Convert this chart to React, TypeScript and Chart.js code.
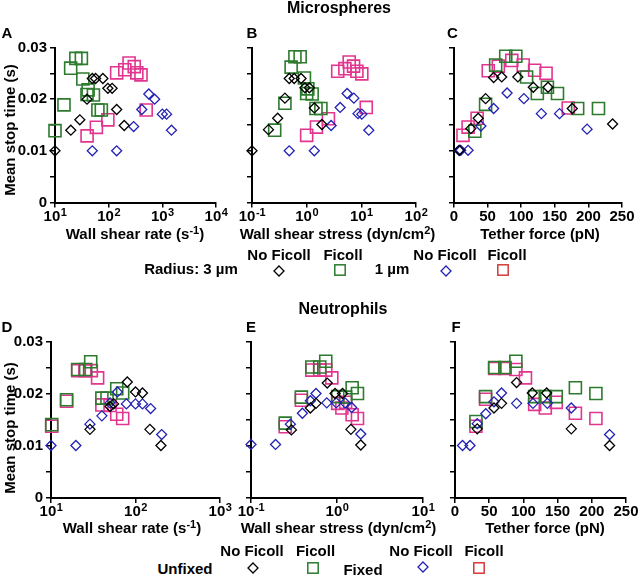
import React, { useEffect, useRef } from 'react';
import { Chart, registerables } from 'chart.js';
Chart.register(...registerables);

type Pt = [number, number];

const FONT = '"Liberation Sans", Arial, Helvetica, sans-serif';
const BLACK = '#000000';
const GREEN = '#2c7b2e';
const BLUE = '#2222b4';
const MAGENTA = '#e2358f';
const LEGEND_RED = '#d43a3a';

const Y_TICKS = [0, 0.005, 0.01, 0.015, 0.02, 0.025, 0.03];
const Y_LABELS = ['0', '', '0.01', '', '0.02', '', '0.03'];

// ---------- Panel A: microspheres vs wall shear rate (s^-1) ----------
const A_r3_noFicoll: Pt[] = [[10, 0.010], [19.7, 0.0140], [29, 0.0160], [39.5, 0.0200], [49.5, 0.0240], [57, 0.0240], [78, 0.0240], [96.6, 0.0221], [116, 0.0221], [141, 0.0180], [195, 0.0149]];
const A_r3_ficoll: Pt[] = [[10, 0.0139], [14.7, 0.0189], [19.6, 0.0260], [24.5, 0.0279], [31, 0.0279], [33, 0.0239], [41.4, 0.0218], [39.5, 0.0209], [52, 0.0208], [63, 0.0179], [73, 0.0179]];
const A_r1_noFicoll: Pt[] = [[49.5, 0.010], [141, 0.010], [292, 0.0147], [414, 0.0180], [560, 0.0210], [720, 0.0200], [1000, 0.0171], [1200, 0.0171], [1480, 0.0140]];
const A_r1_ficoll: Pt[] = [[39.6, 0.0129], [59, 0.01455], [96.6, 0.0160], [141, 0.0251], [200, 0.0257], [240, 0.0270], [300, 0.0263], [335, 0.0251], [400, 0.0247], [500, 0.0179]];

// ---------- Panel B: microspheres vs wall shear stress ----------
const B_r3_noFicoll: Pt[] = [[0.1, 0.010], [0.2, 0.0141], [0.295, 0.0163], [0.4, 0.0202], [0.48, 0.0240], [0.59, 0.0240], [0.79, 0.0240], [0.93, 0.0222], [1.12, 0.0222], [1.38, 0.0183], [1.9, 0.0151]];
const B_r3_ficoll: Pt[] = [[0.26, 0.0140], [0.4, 0.0192], [0.52, 0.0262], [0.61, 0.0282], [0.76, 0.0282], [0.91, 0.0241], [1.05, 0.0220], [1.0, 0.0211], [1.26, 0.0210], [1.48, 0.0182], [1.82, 0.0182]];
const B_r1_noFicoll: Pt[] = [[0.48, 0.010], [1.38, 0.010], [2.8, 0.0149], [4.1, 0.0184], [5.5, 0.0211], [7.3, 0.0202], [8.7, 0.0172], [10.2, 0.0171], [13.7, 0.0140]];
const B_r1_ficoll: Pt[] = [[1.0, 0.0130], [1.51, 0.0146], [2.5, 0.0162], [3.7, 0.0254], [5.0, 0.0259], [6.0, 0.0272], [7.2, 0.0264], [8.3, 0.0254], [10.2, 0.0249], [12.3, 0.0184]];

// ---------- Panel C: microspheres vs tether force ----------
const C_r3_noFicoll: Pt[] = [[8, 0.0101], [25, 0.0143], [36, 0.0163], [47, 0.0201], [59, 0.0242], [71, 0.0243], [95, 0.0243], [118, 0.0223], [140, 0.0223], [176, 0.0182], [236, 0.0152]];
const C_r3_ficoll: Pt[] = [[31, 0.0138], [47, 0.0190], [62, 0.0266], [77, 0.0283], [92, 0.0283], [108, 0.0243], [124, 0.0211], [139, 0.0223], [154, 0.0211], [184, 0.0182], [215, 0.0182]];
const C_r1_noFicoll: Pt[] = [[7.5, 0.0101], [10, 0.0101], [21, 0.0101], [40, 0.0148], [59, 0.0182], [79, 0.0212], [104, 0.0201], [130, 0.0172], [157, 0.0172], [198, 0.0142]];
const C_r1_ficoll: Pt[] = [[13.4, 0.0130], [21, 0.0146], [34.4, 0.0163], [51, 0.0255], [66, 0.0264], [86, 0.0275], [103, 0.0266], [120, 0.0256], [137, 0.0250], [170, 0.0183]];

// ---------- Panel D: neutrophils vs wall shear rate ----------
const D_unfixed_noFicoll: Pt[] = [[28.9, 0.0132], [50, 0.0176], [55, 0.0181], [80, 0.0223], [100, 0.0204], [121, 0.0202], [148, 0.0132], [200, 0.0101]];
const D_unfixed_ficoll: Pt[] = [[10.2, 0.0141], [15.3, 0.0189], [20.7, 0.0247], [25.7, 0.0247], [29.5, 0.0262], [40, 0.0192], [46, 0.0192], [60, 0.0210], [70.5, 0.0202]];
const D_fixed_noFicoll: Pt[] = [[10, 0.0101], [19.7, 0.0101], [28.9, 0.0142], [40, 0.0158], [50, 0.0183], [61, 0.0204], [78, 0.0181], [100, 0.0181], [121, 0.0181], [151, 0.0172], [204, 0.0122]];
const D_fixed_ficoll: Pt[] = [[10.2, 0.0138], [15.3, 0.0186], [20.7, 0.0245], [25.2, 0.0245], [30, 0.0245], [35.6, 0.0231], [40, 0.0179], [50, 0.0178], [60, 0.0161], [70.5, 0.0153]];

// ---------- Panel E: neutrophils vs wall shear stress ----------
const E_unfixed_noFicoll: Pt[] = [[0.295, 0.0131], [0.49, 0.0173], [0.57, 0.0182], [0.77, 0.0221], [0.95, 0.0201], [1.16, 0.0201], [1.45, 0.0132], [1.89, 0.0102]];
const E_unfixed_ficoll: Pt[] = [[0.25, 0.0144], [0.385, 0.0194], [0.51, 0.0252], [0.63, 0.0252], [0.74, 0.0263], [1.02, 0.0195], [1.26, 0.0194], [1.5, 0.0212], [1.73, 0.0201]];
const E_fixed_noFicoll: Pt[] = [[0.1, 0.0103], [0.193, 0.0103], [0.287, 0.0142], [0.396, 0.0163], [0.49, 0.0187], [0.57, 0.0201], [0.76, 0.0183], [0.98, 0.0183], [1.24, 0.0183], [1.48, 0.0174], [1.89, 0.0123]];
const E_fixed_ficoll: Pt[] = [[0.25, 0.0137], [0.385, 0.0188], [0.51, 0.0246], [0.63, 0.0246], [0.74, 0.0246], [0.87, 0.0231], [1.02, 0.0182], [1.14, 0.0173], [1.26, 0.0184], [1.5, 0.0160], [1.73, 0.0153]];

// ---------- Panel F: neutrophils vs tether force ----------
const F_unfixed_noFicoll: Pt[] = [[32.5, 0.0133], [57, 0.0173], [68, 0.0182], [90, 0.0222], [113, 0.0202], [134, 0.0202], [170, 0.0133], [226, 0.0101]];
const F_unfixed_ficoll: Pt[] = [[30.6, 0.0147], [44.7, 0.0195], [58, 0.0251], [73, 0.0251], [89, 0.0263], [116.5, 0.0195], [132, 0.0195], [148, 0.0195], [176, 0.0212], [206, 0.0201]];
const F_fixed_noFicoll: Pt[] = [[11, 0.0101], [22, 0.0101], [32.5, 0.0143], [45, 0.0162], [57, 0.0185], [68, 0.0202], [90, 0.0182], [114, 0.0182], [135, 0.0182], [170, 0.0173], [226, 0.0122]];
const F_fixed_ficoll: Pt[] = [[30.6, 0.0138], [44.7, 0.0190], [58, 0.0249], [73, 0.0249], [89, 0.0247], [103, 0.0231], [116.5, 0.0180], [132, 0.0173], [148, 0.0184], [176, 0.0163], [206, 0.0153]];

const X_TICKS_RATE_A = [10, 100, 1000, 10000];
const X_TICKS_STRESS_B = [0.1, 1, 10, 100];
const X_TICKS_FORCE = [0, 50, 100, 150, 200, 250];
const X_TICKS_RATE_D = [10, 100, 1000];
const X_TICKS_STRESS_E = [0.1, 1, 10];

interface PanelCfg {
  plotLeft: number; plotTop: number; plotRight: number; plotBottom: number;
  xLog: boolean; xTicks: number[]; yLabels: boolean;
  black: Pt[]; green: Pt[]; blue: Pt[]; magenta: Pt[];
}

const PANELS: PanelCfg[] = [
  { plotLeft: 55, plotTop: 47.5, plotRight: 216, plotBottom: 202.5, xLog: true, xTicks: X_TICKS_RATE_A, yLabels: true, black: A_r3_noFicoll, green: A_r3_ficoll, blue: A_r1_noFicoll, magenta: A_r1_ficoll },
  { plotLeft: 252, plotTop: 47.5, plotRight: 416, plotBottom: 202.5, xLog: true, xTicks: X_TICKS_STRESS_B, yLabels: false, black: B_r3_noFicoll, green: B_r3_ficoll, blue: B_r1_noFicoll, magenta: B_r1_ficoll },
  { plotLeft: 454, plotTop: 47.5, plotRight: 622, plotBottom: 202.5, xLog: false, xTicks: X_TICKS_FORCE, yLabels: false, black: C_r3_noFicoll, green: C_r3_ficoll, blue: C_r1_noFicoll, magenta: C_r1_ficoll },
  { plotLeft: 51, plotTop: 342, plotRight: 220, plotBottom: 498, xLog: true, xTicks: X_TICKS_RATE_D, yLabels: true, black: D_unfixed_noFicoll, green: D_unfixed_ficoll, blue: D_fixed_noFicoll, magenta: D_fixed_ficoll },
  { plotLeft: 251, plotTop: 342, plotRight: 423, plotBottom: 498, xLog: true, xTicks: X_TICKS_STRESS_E, yLabels: false, black: E_unfixed_noFicoll, green: E_unfixed_ficoll, blue: E_fixed_noFicoll, magenta: E_fixed_ficoll },
  { plotLeft: 455, plotTop: 342, plotRight: 626, plotBottom: 498, xLog: false, xTicks: X_TICKS_FORCE, yLabels: false, black: F_unfixed_noFicoll, green: F_unfixed_ficoll, blue: F_fixed_noFicoll, magenta: F_fixed_ficoll },
];

function series(data: Pt[], color: string, square: boolean) {
  return {
    data: data.map(([x, y]) => ({ x, y })),
    pointStyle: square ? 'rect' : 'rectRot',
    pointRadius: square ? 8.5 : 5,
    pointHoverRadius: square ? 8.5 : 5,
    pointBorderWidth: square ? 1.6 : 1.3,
    pointBorderColor: color,
    pointBackgroundColor: 'rgba(0,0,0,0)',
    borderColor: color,
    backgroundColor: 'rgba(0,0,0,0)',
    showLine: false,
    clip: false,
  };
}

function Panel({ cfg }: { cfg: PanelCfg }) {
  const ref = useRef<HTMLCanvasElement>(null);
  const cLeft = Math.round(cfg.plotLeft) - 50;
  const yW = cfg.plotLeft - cLeft;
  const cTop = Math.floor(cfg.plotTop - 12);
  const padTop = cfg.plotTop - cTop;
  const cRight = Math.ceil(cfg.plotRight + 24);
  const padRight = cRight - cfg.plotRight;
  const cBottom = Math.ceil(cfg.plotBottom + 26);
  const xH = cBottom - cfg.plotBottom;
  const W = cRight - cLeft;
  const H = cBottom - cTop;

  useEffect(() => {
    if (!ref.current) return;
    const gridOpts = { drawOnChartArea: false, drawTicks: true, tickLength: 5, color: '#000', lineWidth: 1.5 };
    const borderOpts = { display: true, color: '#000', width: 2 };
    const xLabelPlugin = {
      id: 'xlab',
      afterDraw(chart: any) {
        const sc = chart.scales.x;
        const ctx = chart.ctx as CanvasRenderingContext2D;
        const yb = chart.chartArea.bottom + 18;
        ctx.save();
        ctx.fillStyle = '#000';
        ctx.textBaseline = 'alphabetic';
        cfg.xTicks.forEach((v) => {
          const px = sc.getPixelForValue(v);
          if (cfg.xLog) {
            const e = Math.round(Math.log10(v));
            const es = e < 0 ? '-' + -e : String(e);
            ctx.font = `bold 15px ${FONT}`;
            const wb = ctx.measureText('10').width;
            ctx.font = `bold 11px ${FONT}`;
            const we = ctx.measureText(es).width;
            const x0 = px - (wb + we) / 2;
            ctx.textAlign = 'left';
            ctx.font = `bold 15px ${FONT}`;
            ctx.fillText('10', x0, yb);
            ctx.font = `bold 11px ${FONT}`;
            ctx.fillText(es, x0 + wb + 0.5, yb - 5);
          } else {
            ctx.font = `bold 15px ${FONT}`;
            ctx.textAlign = 'center';
            ctx.fillText(String(v), px, yb);
          }
        });
        ctx.restore();
      },
    };
    const chart = new Chart(ref.current, {
      type: 'scatter',
      data: {
        datasets: [
          series(cfg.black, BLACK, false),
          series(cfg.blue, BLUE, false),
          series(cfg.green, GREEN, true),
          series(cfg.magenta, MAGENTA, true),
        ] as any,
      },
      options: {
        animation: false,
        responsive: false,
        maintainAspectRatio: false,
        events: [],
        layout: { padding: { left: 0, top: padTop, right: padRight, bottom: 0 } },
        plugins: { legend: { display: false }, tooltip: { enabled: false }, title: { display: false } },
        scales: {
          x: {
            type: cfg.xLog ? 'logarithmic' : 'linear',
            min: cfg.xTicks[0],
            max: cfg.xTicks[cfg.xTicks.length - 1],
            afterBuildTicks: (s: any) => { s.ticks = cfg.xTicks.map((v) => ({ value: v })); },
            afterFit: (s: any) => { s.height = xH; },
            ticks: { display: false },
            grid: gridOpts,
            border: borderOpts,
          },
          y: {
            type: 'linear',
            min: 0,
            max: 0.03,
            afterBuildTicks: (s: any) => { s.ticks = Y_TICKS.map((v) => ({ value: v })); },
            afterFit: (s: any) => { s.width = yW; },
            ticks: {
              display: cfg.yLabels,
              padding: 3,
              color: '#000',
              font: { family: FONT, size: 15, weight: 'bold' },
              callback: (_v: any, i: number) => Y_LABELS[i] ?? '',
            },
            grid: gridOpts,
            border: borderOpts,
          },
        },
      } as any,
      plugins: [xLabelPlugin],
    });
    return () => chart.destroy();
  }, []);

  return (
    <canvas
      ref={ref}
      width={W}
      height={H}
      style={{ position: 'absolute', left: cLeft, top: cTop, width: W, height: H }}
    />
  );
}

function Txt({ x, y, size = 15, rotate = false, children }: { x: number; y: number; size?: number; rotate?: boolean; children: any }) {
  return (
    <div
      style={{
        position: 'absolute',
        left: x,
        top: y,
        transform: `translate(-50%, -50%)${rotate ? ' rotate(-90deg)' : ''}`,
        whiteSpace: 'nowrap',
        fontSize: size,
        lineHeight: 1,
      }}
    >
      {children}
    </div>
  );
}

const Sup = ({ children }: { children: any }) => (
  <span style={{ fontSize: 11, position: 'relative', top: -5, verticalAlign: 'baseline' }}>{children}</span>
);

function Marker({ x, y, color, square }: { x: number; y: number; color: string; square: boolean }) {
  const s = 14;
  return (
    <svg width={s} height={s} style={{ position: 'absolute', left: x - s / 2, top: y - s / 2 }}>
      {square ? (
        <rect x={1.8} y={1.8} width={10.4} height={10.4} fill="none" stroke={color} strokeWidth={1.5} />
      ) : (
        <polygon points="7,2 12,7 7,12 2,7" fill="none" stroke={color} strokeWidth={1.3} />
      )}
    </svg>
  );
}

export default function App() {
  return (
    <div
      style={{
        position: 'absolute',
        left: 0,
        top: 0,
        width: 640,
        height: 576,
        background: '#fff',
        fontFamily: FONT,
        fontWeight: 'bold',
        color: '#000',
        overflow: 'hidden',
      }}
    >
      {PANELS.map((p, i) => (
        <Panel key={i} cfg={p} />
      ))}

      <Txt x={339} y={8} size={16}>Microspheres</Txt>
      <Txt x={343} y={309} size={16}>Neutrophils</Txt>

      <Txt x={7} y={32}>A</Txt>
      <Txt x={252} y={32}>B</Txt>
      <Txt x={452.5} y={32}>C</Txt>
      <Txt x={7} y={326}>D</Txt>
      <Txt x={251} y={326}>E</Txt>
      <Txt x={456} y={326}>F</Txt>

      <Txt x={8.5} y={130} rotate>Mean stop time (s)</Txt>
      <Txt x={8.5} y={428} rotate>Mean stop time (s)</Txt>

      <Txt x={135} y={233}>Wall shear rate (s<Sup>-1</Sup>)</Txt>
      <Txt x={337.5} y={233}>Wall shear stress (dyn/cm<Sup>2</Sup>)</Txt>
      <Txt x={540} y={233}>Tether force (pN)</Txt>
      <Txt x={132} y={527}>Wall shear rate (s<Sup>-1</Sup>)</Txt>
      <Txt x={338.5} y={527}>Wall shear stress (dyn/cm<Sup>2</Sup>)</Txt>
      <Txt x={545} y={527}>Tether force (pN)</Txt>

      <Txt x={279} y={254}>No Ficoll</Txt>
      <Txt x={343} y={254}>Ficoll</Txt>
      <Txt x={445} y={254}>No Ficoll</Txt>
      <Txt x={507} y={254}>Ficoll</Txt>
      <Txt x={191} y={268}>Radius: 3 µm</Txt>
      <Txt x={392} y={268}>1 µm</Txt>
      <Marker x={279} y={271} color={BLACK} square={false} />
      <Marker x={340} y={270} color={GREEN} square />
      <Marker x={446} y={271} color={BLUE} square={false} />
      <Marker x={503} y={270} color={LEGEND_RED} square />

      <Txt x={252} y={550}>No Ficoll</Txt>
      <Txt x={315.5} y={550}>Ficoll</Txt>
      <Txt x={421} y={550}>No Ficoll</Txt>
      <Txt x={484} y={550}>Ficoll</Txt>
      <Txt x={185} y={568}>Unfixed</Txt>
      <Txt x={363} y={569}>Fixed</Txt>
      <Marker x={253} y={568} color={BLACK} square={false} />
      <Marker x={313} y={568} color={GREEN} square />
      <Marker x={423} y={567} color={BLUE} square={false} />
      <Marker x={479} y={568} color={LEGEND_RED} square />
    </div>
  );
}
